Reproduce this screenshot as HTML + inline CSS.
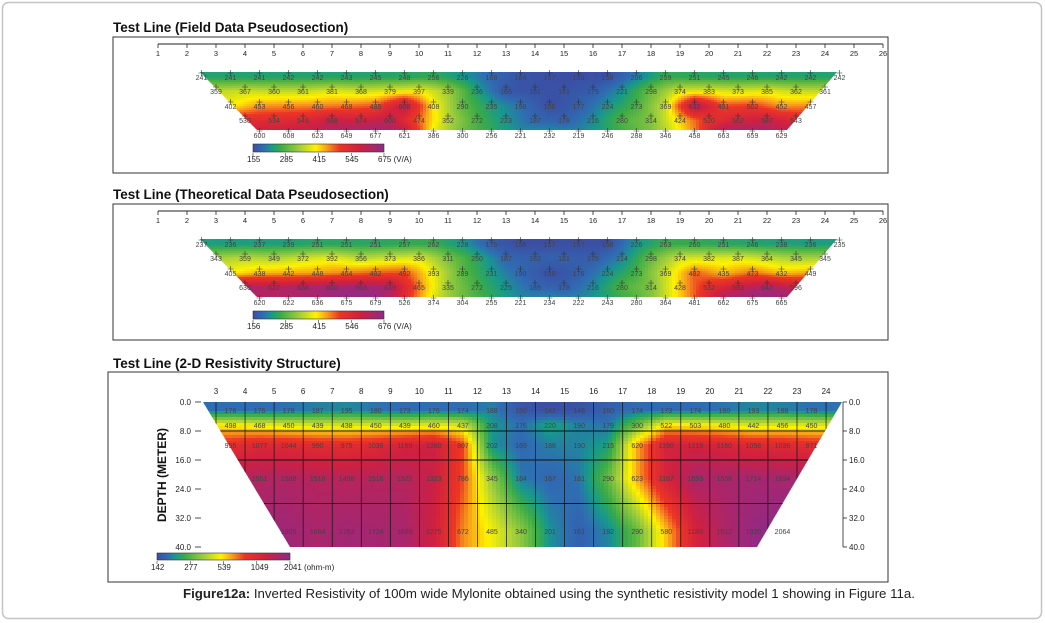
<!DOCTYPE html>
<html><head><meta charset="utf-8">
<style>
html,body{margin:0;padding:0;background:#fff;}
svg{display:block;font-family:"Liberation Sans",sans-serif;}
</style></head>
<body>
<svg id="fig" width="1045" height="623" viewBox="0 0 1045 623" xmlns="http://www.w3.org/2000/svg">
<rect x="2.5" y="2.5" width="1039" height="616" rx="6" fill="#fff" stroke="#c4c4c4" stroke-width="1.5"/>
<defs>
<clipPath id="clip1"><polygon points="200,72 837,72 787,130 257,130"/></clipPath>
<clipPath id="clip2"><polygon points="200,239 837,239 787,297 257,297"/></clipPath>
<clipPath id="clip3"><polygon points="203,402 842,402 757,547 290,547"/></clipPath>
<linearGradient id="cbar" x1="0" x2="1" y1="0" y2="0">
<stop offset="0" stop-color="#3b4ea3"/><stop offset="0.08" stop-color="#2f6db3"/><stop offset="0.14" stop-color="#17998c"/><stop offset="0.21" stop-color="#3aab48"/><stop offset="0.36" stop-color="#a5cf3a"/><stop offset="0.48" stop-color="#fff200"/><stop offset="0.56" stop-color="#f7a21b"/><stop offset="0.66" stop-color="#ec3524"/><stop offset="0.82" stop-color="#cf2040"/><stop offset="1" stop-color="#8e2a8a"/>
</linearGradient>
</defs>

<text x="113" y="32" font-size="13.5" font-weight="bold" fill="#111">Test Line (Field Data Pseudosection)</text>
<rect x="113" y="37" width="775" height="136" fill="none" stroke="#333" stroke-width="1"/>
<text x="113" y="199" font-size="13.5" font-weight="bold" fill="#111">Test Line (Theoretical Data Pseudosection)</text>
<rect x="113" y="204" width="775" height="136" fill="none" stroke="#333" stroke-width="1"/>
<text x="113" y="368" font-size="13.5" font-weight="bold" fill="#111">Test Line (2-D Resistivity Structure)</text>
<rect x="108" y="372" width="780" height="210" fill="none" stroke="#333" stroke-width="1"/>

<g id="p1"></g>
<g id="p2"></g>
<g id="p3"></g>

<rect x="253" y="144" width="131" height="8" fill="url(#cbar)" stroke="#333" stroke-width="0.6"/>
<rect x="253" y="311" width="131" height="8" fill="url(#cbar)" stroke="#333" stroke-width="0.6"/>
<rect x="157" y="553" width="133" height="7" fill="url(#cbar)" stroke="#333" stroke-width="0.6"/>
<g id="cbl" font-size="8" fill="#222"></g>

<text x="166" y="475" font-size="12" font-weight="bold" fill="#111" text-anchor="middle" transform="rotate(-90 166 475)">DEPTH (METER)</text>

<text x="183" y="598" font-size="12.5" fill="#222" textLength="732" lengthAdjust="spacingAndGlyphs"><tspan font-weight="bold">Figure12a:</tspan> Inverted Resistivity of 100m wide Mylonite obtained using the synthetic resistivity model 1 showing in Figure 11a.</text>
</svg>

<script>
const fieldRowStarts = [2.5, 3.0, 3.5, 4.0, 4.5];
const fieldRow1 = [241,241,241,242,242,243,245,248,256,226,188,164,157,155,158,206,259,251,245,246,242,242,242];
const fieldRow2 = [359,367,360,361,381,368,379,397,339,236,165,161,161,175,221,298,374,383,373,385,362,361];
const fieldRow3 = [402,453,456,460,468,485,608,408,290,235,198,155,177,224,273,369,632,491,502,452,457];
const fieldRow4 = [530,534,546,588,574,600,474,352,272,223,187,178,216,280,314,424,520,562,587,543];
const fieldRow5 = [600,608,623,649,677,621,386,300,256,221,232,219,246,288,346,458,663,659,629];

const theoRow1 = [237,236,237,239,251,251,251,257,262,228,175,155,157,157,158,226,263,260,251,246,238,236,235];
const theoRow2 = [343,359,349,372,392,356,373,386,311,250,187,182,181,175,214,298,374,382,387,364,345,345];
const theoRow3 = [405,438,442,448,464,482,492,393,289,231,190,159,176,224,273,369,482,435,473,432,449];
const theoRow4 = [636,622,638,650,653,639,465,335,272,225,189,178,216,280,314,428,532,593,642,596];
const theoRow5 = [620,622,636,675,679,526,374,304,255,221,234,222,243,280,364,481,662,675,665];

const modelDepths = [2.2, 6.3, 11.9, 21, 35.6];
const modelStarts = [3.5, 3.5, 3.5, 4.5, 5.5];
const modelRowA = [176,176,178,187,195,180,173,176,174,188,150,141,146,160,174,173,174,180,193,188,178];
const modelRowB = [498,468,450,439,438,450,439,460,437,208,176,220,190,179,300,522,503,480,442,456,450];
const modelRowC = [955,1077,1044,990,975,1036,1199,1280,807,202,169,188,190,215,620,1190,1219,1150,1058,1036,971];
const modelRowD = [1551,1588,1518,1498,1516,1522,1323,786,345,184,167,181,290,623,1187,1659,1658,1714,1694];
const modelRowE = [1805,1664,1763,1724,1689,1275,672,485,340,201,161,192,290,580,1180,1612,1920,2064];

const pseudoTicks = [1,2,3,4,5,6,7,8,9,10,11,12,13,14,15,16,17,18,19,20,21,22,23,24,25,26];
const modelTicks = [3,4,5,6,7,8,9,10,11,12,13,14,15,16,17,18,19,20,21,22,23,24];
const depthTicks = [0,8,16,24,32,40];
const cb1Labels = ["155","285","415","545","675 (V/A)"];
const cb2Labels = ["156","285","415","546","676 (V/A)"];
const cb3Labels = ["142","277","539","1049","2041 (ohm-m)"];

const NS = "http://www.w3.org/2000/svg";
function mk(tag, attrs, parent){const e=document.createElementNS(NS,tag);for(const k in attrs)e.setAttribute(k,attrs[k]);parent.appendChild(e);return e;}
const stops=[[0,[59,78,163]],[0.08,[47,109,179]],[0.14,[23,153,140]],[0.21,[58,171,72]],[0.36,[165,207,58]],[0.48,[255,242,0]],[0.56,[247,162,27]],[0.66,[236,53,36]],[0.82,[207,32,64]],[1,[142,42,138]]];
function cmap(t){t=Math.max(0,Math.min(1,t));for(let i=1;i<stops.length;i++){if(t<=stops[i][0]){const a=stops[i-1],b=stops[i];const f=(t-a[0])/(b[0]-a[0]);const c=a[1].map((v,j)=>Math.round(v+(b[1][j]-v)*f));return `rgb(${c[0]},${c[1]},${c[2]})`;}}return "rgb(142,42,138)";}
function rowVal(start, vals, u, tf){const p=u-start;if(p<=0)return tf(vals[0]);if(p>=vals.length-1)return tf(vals[vals.length-1]);const i=Math.floor(p),f=p-i;return tf(vals[i])*(1-f)+tf(vals[i+1])*f;}
function fieldVal(rows, ys, u, y, tf){const rv=rows.map(r=>rowVal(r.start,r.vals,u,tf));if(y<=ys[0])return rv[0];if(y>=ys[ys.length-1])return rv[rv.length-1];for(let i=1;i<ys.length;i++){if(y<=ys[i]){const f=(y-ys[i-1])/(ys[i]-ys[i-1]);return rv[i-1]*(1-f)+rv[i]*f;}}}

function pseudo(gid, off, rowsData, clipId, lo, hi){
  const g=document.getElementById(gid);
  const xs=u=>158+(u-1)*29.0;
  const inv=x=>(x-158)/29.0+1;
  mk("line",{x1:158,x2:883,y1:44+off,y2:44+off,stroke:"#222","stroke-width":1},g);
  pseudoTicks.forEach(t=>{
    const tk=mk("line",{x1:xs(t),x2:xs(t),y1:44+off,y2:48+off,stroke:"#222","stroke-width":0.8},g);
    
    
    const tl=mk("text",{x:xs(t),y:56+off,"font-size":7.5,"text-anchor":"middle",fill:"#222"},g);
    tl.textContent=t;
    
    
  });
  const rowYs=[77+off,91+off,106+off,120+off,135+off];
  const rows=rowsData.map((v,i)=>({start:fieldRowStarts[i],vals:v}));
  const cg=mk("g",{"clip-path":`url(#${clipId})`},g);
  const tf=v=>v;
  for(let y=72+off;y<131+off;y+=2){
    for(let x=198;x<840;x+=3){
      const v=fieldVal(rows,rowYs,inv(x+1.5),y+1,tf);
      const r=mk("rect",{x:x,y:y,width:3.4,height:2.4,fill:cmap((v-lo)/(hi-lo))},cg);
      
      
    }
  }
  rows.forEach((r,ri)=>{
    r.vals.forEach((v,i)=>{
      const x=xs(r.start+i), y=rowYs[ri];
      const p=mk("path",{d:`M${x-3},${y-4}h6M${x},${y-7}v6`,stroke:"#333","stroke-width":0.6,fill:"none"},g);
      
      
      const t=mk("text",{x:x,y:y+3,"font-size":7,"text-anchor":"middle",fill:"#444"},g);
      t.textContent=v;
      
      
    });
  });
}
pseudo("p1",0,[fieldRow1,fieldRow2,fieldRow3,fieldRow4,fieldRow5],"clip1",155,675);
pseudo("p2",167,[theoRow1,theoRow2,theoRow3,theoRow4,theoRow5],"clip2",156,676);

(function(){
  const g=document.getElementById("p3");
  const xs=u=>216+(u-3)*29.05;
  const inv=x=>(x-216)/29.05+3;
  const ys=d=>402+d*3.625;
  const rowsV=[modelRowA,modelRowB,modelRowC,modelRowD,modelRowE];
  const rows=rowsV.map((v,i)=>({start:modelStarts[i],vals:v}));
  const rowYs=modelDepths.map(ys);
  const lmin=Math.log(142), lmax=Math.log(2041);
  const tf=v=>Math.log(v);
  const cg=mk("g",{"clip-path":"url(#clip3)"},g);
  for(let y=402;y<548;y+=3){
    for(let x=200;x<845;x+=4){
      const v=fieldVal(rows,rowYs,inv(x+2),y+1.5,tf);
      const r=mk("rect",{x:x,y:y,width:4.4,height:3.4,fill:cmap((v-lmin)/(lmax-lmin))},cg);
      
      
    }
  }
  modelTicks.forEach(t=>{
    const l=mk("line",{x1:xs(t),x2:xs(t),y1:402,y2:547,stroke:"#111","stroke-width":0.7},cg);
    
    
    const tl=mk("text",{x:xs(t),y:394,"font-size":8,"text-anchor":"middle",fill:"#222"},g);
    tl.textContent=t;
    
    
  });
  [8,16,28].forEach(d=>{
    const l=mk("line",{x1:200,x2:845,y1:ys(d),y2:ys(d),stroke:"#111","stroke-width":1},cg);
    
    
  });
  mk("line",{x1:843,x2:843,y1:402,y2:547,stroke:"#222","stroke-width":0.8},g);
  depthTicks.forEach(d=>{
    const lt=mk("text",{x:191,y:ys(d)+3,"font-size":8,"text-anchor":"end",fill:"#222"},g);
    lt.textContent=d.toFixed(1);
    
    
    mk("line",{x1:195,x2:201,y1:ys(d),y2:ys(d),stroke:"#222","stroke-width":0.8},g);
    mk("line",{x1:843,x2:847,y1:ys(d),y2:ys(d),stroke:"#222","stroke-width":0.8},g);
    const rt=mk("text",{x:849,y:ys(d)+3,"font-size":8,fill:"#222"},g);
    rt.textContent=d.toFixed(1);
    
    
  });
  rows.forEach((r,ri)=>{
    r.vals.forEach((v,i)=>{
      const t=mk("text",{x:xs(r.start+i),y:rowYs[ri]+3,"font-size":7,"text-anchor":"middle",fill:"#444"},g);
      t.textContent=v;
      
      
    });
  });
})();

(function(){
  const g=document.getElementById("cbl");
  function labs(arr,x0,x1,y){
    arr.forEach((s,i)=>{
      const x=x0+(x1-x0)*i/(arr.length-1);
      mk("line",{x1:x,x2:x,y1:y-9,y2:y-6,stroke:"#333","stroke-width":0.6},g);
      const t=mk("text",{x:x-6,y:y,"font-size":8,fill:"#222"},g);
      t.textContent=s;
      
      
    });
  }
  labs(cb1Labels,253,384,162);
  labs(cb2Labels,253,384,329);
  labs(cb3Labels,157,290,570);
})();
</script>
</body></html>
